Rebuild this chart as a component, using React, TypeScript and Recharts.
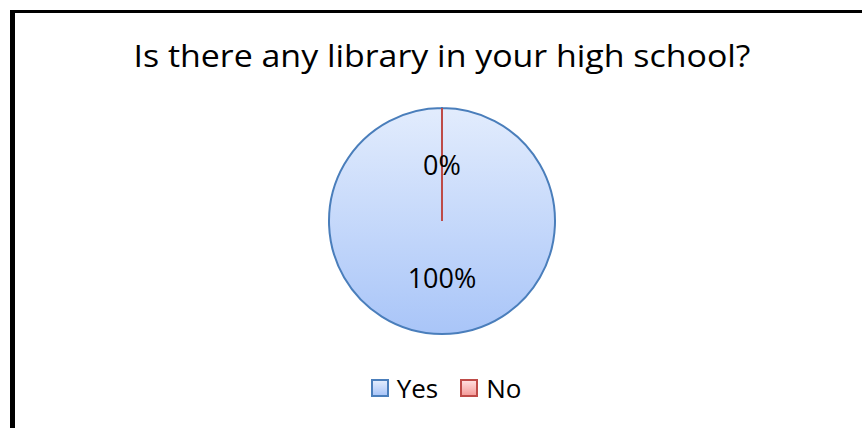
import { Cell, Legend, Pie, PieChart } from "recharts"

const answers = ["Yes", "No"]
const shares = [100, 0]
const percentLabels = ["100%", "0%"]

const data = answers.map((name, i) => ({ name, value: shares[i], label: percentLabels[i] }))

const fills = ["url(#gradYes)", "url(#gradNo)"]
const legendFills = ["linear-gradient(#e2ecfd, #a9c5f8)", "linear-gradient(#ffdede, #f49d9b)"]
const strokes = ["#4a7ebb", "#be4b48"]
const font = "'Open Sans', sans-serif"

const RADIAN = Math.PI / 180

function renderLabel(props: any) {
  const { cx, cy, midAngle, outerRadius, payload, index, startAngle, endAngle } = props
  const r = outerRadius * 0.5
  const x = cx + r * Math.cos(-midAngle * RADIAN)
  const y = cy + r * Math.sin(-midAngle * RADIAN)
  // a 0% slice has no area, so Recharts skips it; draw its edge as a line like the original
  const empty = startAngle === endAngle
  return (
    <g>
      {empty && (
        <line
          x1={cx}
          y1={cy}
          x2={cx + outerRadius * Math.cos(-startAngle * RADIAN)}
          y2={cy + outerRadius * Math.sin(-startAngle * RADIAN)}
          stroke={strokes[index]}
          strokeWidth={2}
        />
      )}
      <text x={x} y={y} textAnchor="middle" dominantBaseline="central" fontSize={27} fontFamily={font} fill="#000">
        {payload.label}
      </text>
    </g>
  )
}

function renderLegend() {
  return (
    <div style={{ display: "flex", justifyContent: "center", alignItems: "center", fontFamily: font, fontSize: 26 }}>
      {answers.map((name, i) => (
        <div key={name} style={{ display: "flex", alignItems: "center", marginLeft: i === 0 ? 0 : 22 }}>
          <div
            style={{
              width: 14,
              height: 14,
              border: `2px solid ${strokes[i]}`,
              background: legendFills[i],
              marginRight: 8,
            }}
          />
          <span style={{ color: "#000" }}>{name}</span>
        </div>
      ))}
    </div>
  )
}

export default function App() {
  return (
    <div style={{ position: "absolute", left: 0, top: 0, width: 862, height: 428, background: "#fff" }}>
      <div
        style={{
          position: "absolute",
          left: 10,
          top: 10,
          width: 847,
          height: 415,
          borderTop: "3px solid #000",
          borderLeft: "5px solid #000",
        }}
      />
      <svg style={{ position: "absolute", left: 0, top: 0 }} width={862} height={100}>
        <text x={442} y={67} textAnchor="middle" fontSize={31} fontFamily={font} fill="#000" textLength={617} lengthAdjust="spacingAndGlyphs">
          Is there any library in your high school?
        </text>
      </svg>
      <div style={{ position: "absolute", left: 0, top: 0 }}>
        <PieChart width={862} height={428} margin={{ top: 0, right: 0, bottom: 0, left: 0 }}>
          <defs>
            <linearGradient id="gradYes" x1="0" y1="0" x2="0" y2="1">
              <stop offset="0%" stopColor="#e2ecfd" />
              <stop offset="100%" stopColor="#a9c5f8" />
            </linearGradient>
            <linearGradient id="gradNo" x1="0" y1="0" x2="0" y2="1">
              <stop offset="0%" stopColor="#ffdede" />
              <stop offset="100%" stopColor="#f49d9b" />
            </linearGradient>
          </defs>
          <Pie
            data={data}
            dataKey="value"
            nameKey="name"
            cx={442}
            cy={221}
            outerRadius={113}
            startAngle={90}
            endAngle={-270}
            label={renderLabel}
            labelLine={false}
            isAnimationActive={false}
          >
            {data.map((d, i) => (
              <Cell key={d.name} fill={fills[i]} stroke={strokes[i]} strokeWidth={2} />
            ))}
          </Pie>
          <Legend
            content={renderLegend}
            layout="horizontal"
            verticalAlign="bottom"
            wrapperStyle={{ position: "absolute", top: 370, bottom: "auto", left: 0, width: 892 }}
          />
        </PieChart>
      </div>
    </div>
  )
}
